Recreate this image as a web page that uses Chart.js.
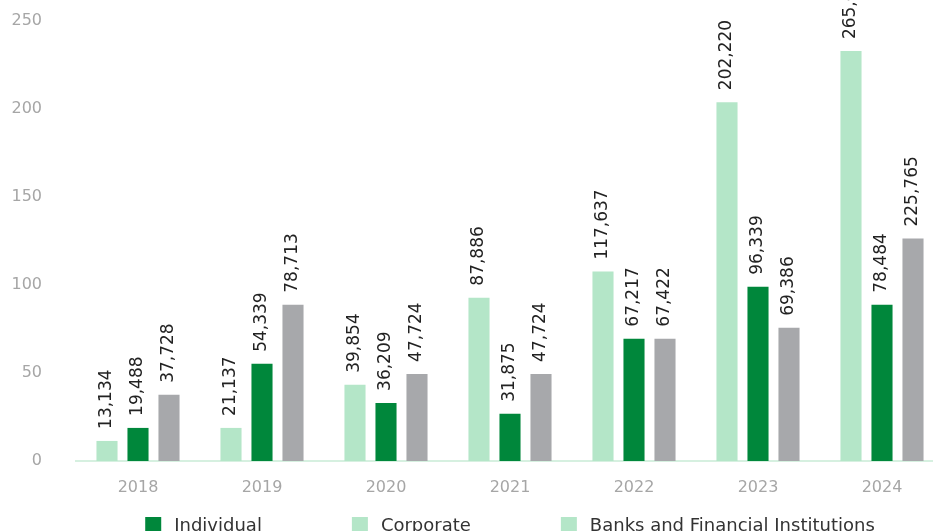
<!DOCTYPE html>
<html>
<head>
<meta charset="utf-8">
<script src="https://cdn.jsdelivr.net/npm/chart.js@4/dist/chart.umd.min.js"></script>
<style>
  html, body { margin: 0; padding: 0; background: #fff; overflow: hidden; }
  #wrap { position: relative; width: 944px; height: 556px; }
</style>
</head>
<body>
<div id="wrap"><canvas id="loans-chart"></canvas></div>
<script>
"use strict";

const years = ["2018", "2019", "2020", "2021", "2022", "2023", "2024"];

// bar heights as drawn in the picture
const corporateValues = [11.4, 18.8, 43.3, 92.8, 107.6, 203.9, 232.9];
const individualValues = [18.8, 55.2, 33.0, 26.8, 69.5, 99.0, 88.8];
const banksValues = [37.6, 88.8, 49.5, 49.5, 69.5, 75.7, 126.4];

// printed labels above the bars
const corporateLabels = ["13,134", "21,137", "39,854", "87,886", "117,637", "202,220", "265,000"];
const individualLabels = ["19,488", "54,339", "36,209", "31,875", "67,217", "96,339", "78,484"];
const banksLabels = ["37,728", "78,713", "47,724", "47,724", "67,422", "69,386", "225,765"];

const yMin = 0;
const yMax = 250;
const yStep = 50;

const legendOrder = ["Individual", "Corporate", "Banks and Financial Institutions"];

const FONT = "'DejaVu Sans', sans-serif";
const darkGreen = "#00873b";
const lightGreen = "#b4e6c8";
const grey = "#a7a8ab";

const legendColors = {
  "Individual": darkGreen,
  "Corporate": lightGreen,
  "Banks and Financial Institutions": lightGreen,
};

const valueLabelPlugin = {
  id: "valueLabels",
  afterDatasetsDraw(chart) {
    const ctx = chart.ctx;
    ctx.save();
    ctx.font = "17px " + FONT;
    ctx.fillStyle = "#222222";
    ctx.textAlign = "left";
    ctx.textBaseline = "middle";
    chart.data.datasets.forEach((dataset, i) => {
      chart.getDatasetMeta(i).data.forEach((bar, j) => {
        ctx.save();
        ctx.translate(bar.x, bar.y - 12);
        ctx.rotate(-Math.PI / 2);
        ctx.fillText(dataset.valueLabels[j], 0, 0);
        ctx.restore();
      });
    });
    ctx.restore();
  },
};

// legend drawn under the axis, centred on the plot area
const bottomLegendPlugin = {
  id: "bottomLegend",
  afterDraw(chart) {
    const ctx = chart.ctx;
    const box = 16;
    const textGap = 13;
    const itemGap = 90;
    const centerY = 525;
    ctx.save();
    ctx.font = "18px " + FONT;
    ctx.textBaseline = "middle";
    ctx.textAlign = "left";

    const widths = legendOrder.map((name) => box + textGap + ctx.measureText(name).width);
    const total = widths.reduce((a, b) => a + b, 0) + itemGap * (widths.length - 1);
    let x = (chart.chartArea.left + chart.chartArea.right) / 2 - total / 2;

    legendOrder.forEach((name, i) => {
      ctx.fillStyle = legendColors[name];
      ctx.fillRect(x, centerY - box / 2, box, box);
      ctx.fillStyle = "#333333";
      ctx.fillText(name, x + box + textGap, centerY + 1);
      x += widths[i] + itemGap;
    });
    ctx.restore();
  },
};

const chartCanvas = document.getElementById("loans-chart");

const chartData = {
  labels: years,
  datasets: [
    {
      label: "Corporate",
      data: corporateValues,
      valueLabels: corporateLabels,
      backgroundColor: lightGreen,
    },
    {
      label: "Individual",
      data: individualValues,
      valueLabels: individualLabels,
      backgroundColor: darkGreen,
    },
    {
      label: "Banks and Financial Institutions",
      data: banksValues,
      valueLabels: banksLabels,
      backgroundColor: grey,
    },
  ],
};

const loansChart = new Chart(chartCanvas, {
  type: "bar",
  data: chartData,
  plugins: [valueLabelPlugin, bottomLegendPlugin],
  options: {
    responsive: true,
    maintainAspectRatio: false,
    animation: false,
    categoryPercentage: 0.75,
    barPercentage: 0.68,
    layout: {
      padding: { top: 21, left: 0, right: 0, bottom: 55 },
    },
    scales: {
      x: {
        grid: { display: false, drawTicks: false },
        border: { display: true, color: "#d6f0e0", width: 2 },
        ticks: {
          color: "#a6a6a6",
          font: { family: FONT, size: 16 },
          padding: 17,
        },
        afterFit(scale) {
          scale.height = 40;
        },
      },
      y: {
        min: yMin,
        max: yMax,
        grid: { display: false, drawTicks: false },
        border: { display: false },
        ticks: {
          stepSize: yStep,
          color: "#a6a6a6",
          font: { family: FONT, size: 16 },
          padding: 34,
        },
        afterFit(scale) {
          scale.width = 76;
          // the tick padding only pushes labels left, not the plot down
          scale.paddingTop = 10;
          scale.paddingBottom = 10;
        },
      },
    },
    plugins: {
      tooltip: { enabled: false },
      legend: { display: false },
    },
  },
});
</script>
</body>
</html>
